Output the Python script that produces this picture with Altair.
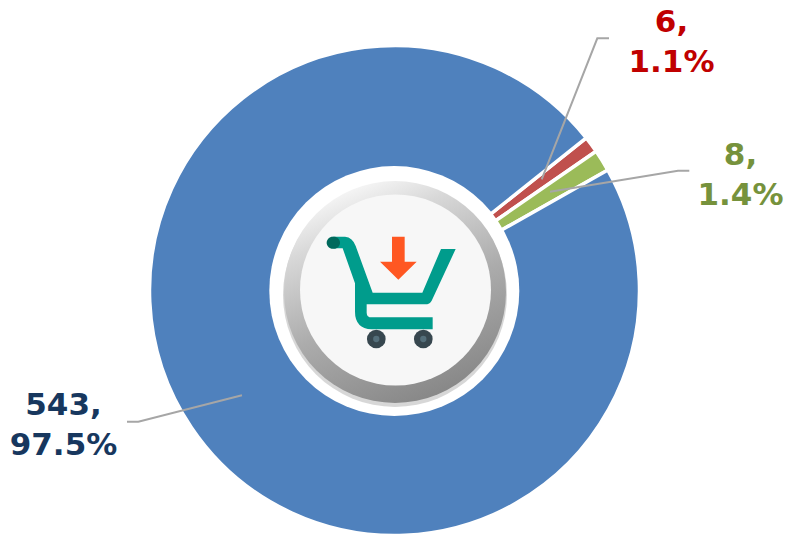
import math
import altair as alt
import pandas as pd

# Chart values
categories = ["Red", "Green", "Blue"]
counts = [6, 8, 543]
percents = ["1.1", "1.4", "97.5"]

# Styling and layout
slice_colors = ["#C0504D", "#9BBB59", "#4F81BD"]
label_colors = ["#C00000", "#76923C", "#17375E"]
label_x = [663.5, 732.5, 55.5]
label_y = [24, 157, 407]
leaders = {
    "Red": [(533.7, 171.3), (589.3, 30.3), (601, 30.3)],
    "Green": [(542, 183.7), (670, 162.7), (681.3, 162.7)],
    "Blue": [(234, 387.3), (130.3, 413.7), (119, 413.7)],
}
CX, CY = 386.5, 282.5
W, H = 776, 526
START = math.radians(51.5)

slices = pd.DataFrame({"category": categories, "count": counts, "idx": range(3)})
labels = pd.DataFrame({
    "category": categories,
    "label": [f"{c},\n{p}%" for c, p in zip(counts, percents)],
    "px": label_x,
    "py": label_y,
})
leader_rows = pd.DataFrame([
    {"category": k, "px": p[0], "py": p[1], "step": i}
    for k, pts in leaders.items() for i, p in enumerate(pts)
])

cat_color = alt.Scale(domain=categories, range=slice_colors)
lab_color = alt.Scale(domain=categories, range=label_colors)
px_x = alt.Scale(domain=[0, W], range=[0, W])
px_y = alt.Scale(domain=[0, H], range=[0, H])

donut = alt.Chart(slices).mark_arc(
    outerRadius=245, innerRadius=110, stroke="white", strokeWidth=3.5
).encode(
    x=alt.value(CX), y=alt.value(CY),
    theta=alt.Theta("count:Q", stack=True,
                    scale=alt.Scale(domain=[0, sum(counts)], range=[START, START + 2 * math.pi])),
    order=alt.Order("idx:Q"),
    color=alt.Color("category:N", scale=cat_color, legend=None),
)


def disk(cx, cy, r, fill, opacity=1.0):
    return alt.Chart(slices.head(1)).mark_arc(
        outerRadius=r, innerRadius=0, theta=0, theta2=2 * math.pi,
        fill=fill, opacity=opacity,
    ).encode(x=alt.value(cx), y=alt.value(cy))


bevel = {
    "gradient": "linear", "x1": 0.3, "y1": 0.0, "x2": 0.72, "y2": 1.0,
    "stops": [
        {"offset": 0.0, "color": "#FAFAFA"},
        {"offset": 0.2, "color": "#D8D8D8"},
        {"offset": 0.55, "color": "#ACACAC"},
        {"offset": 1.0, "color": "#848484"},
    ],
}

ICON_X, ICON_Y, ICON_SIZE = 252, 152, 4 / 9
CART = ("M218 230 L255 230 Q278 232 287 258 L338 398 L487 398 L543 267 L587 267 "
        "L515 422 Q510 433 495 433 L320 433 L320 458 Q320 472 335 472 L518 472 L518 508 "
        "L335 508 Q285 505 285 455 L285 370 L248 265 L218 265 Z")
GRIP = "M218 230 A18 18 0 0 0 218 266 L222 266 A18 18 0 0 0 222 230 Z"
ARROW = "M396 230 L434 230 L434 305 L470 305 L415 359 L360 305 L396 305 Z"


def glyph(path, fill):
    return alt.Chart(slices.head(1)).mark_point(
        shape=path, size=ICON_SIZE, filled=True, fill=fill, stroke=None, opacity=1
    ).encode(x=alt.value(ICON_X), y=alt.value(ICON_Y))


def wheel(x, y, size, fill):
    return alt.Chart(slices.head(1)).mark_point(
        shape="circle", size=size, filled=True, fill=fill, stroke=None, opacity=1
    ).encode(x=alt.value(x), y=alt.value(y))


lines = alt.Chart(leader_rows).mark_line(color="#A6A6A6", strokeWidth=2).encode(
    x=alt.X("px:Q", scale=px_x, axis=None),
    y=alt.Y("py:Q", scale=px_y, axis=None),
    detail="category:N",
    order="step:Q",
)

texts = alt.Chart(labels).mark_text(
    font="DejaVu Sans", fontWeight="bold", fontSize=31, align="center",
    baseline="alphabetic", lineBreak="\n", lineHeight=39.5,
).encode(
    x=alt.X("px:Q", scale=px_x, axis=None),
    y=alt.Y("py:Q", scale=px_y, axis=None),
    text="label:N",
    color=alt.Color("category:N", scale=lab_color, legend=None),
)

chart = alt.layer(
    donut,
    disk(386.3, 283, 125, "white"),
    disk(387, 287, 112, "#707070", 0.28),
    disk(387, 284, 111, bevel),
    disk(387.5, 282, 95.5, "#F7F7F7"),
    glyph(CART, "#009C8C"),
    glyph(GRIP, "#00695C"),
    glyph(ARROW, "#FF5722"),
    wheel(368.3, 331, 350, "#37474F"),
    wheel(415.3, 331, 350, "#37474F"),
    wheel(368.3, 331, 40, "#546E7A"),
    wheel(415.3, 331, 40, "#546E7A"),
    lines,
    texts,
).resolve_scale(color="independent").properties(
    width=W, height=H, padding=0, autosize=alt.AutoSizeParams(type="none")
).configure_view(stroke=None)

chart.save("out.html", embed_options={"renderer": "svg", "actions": False})
